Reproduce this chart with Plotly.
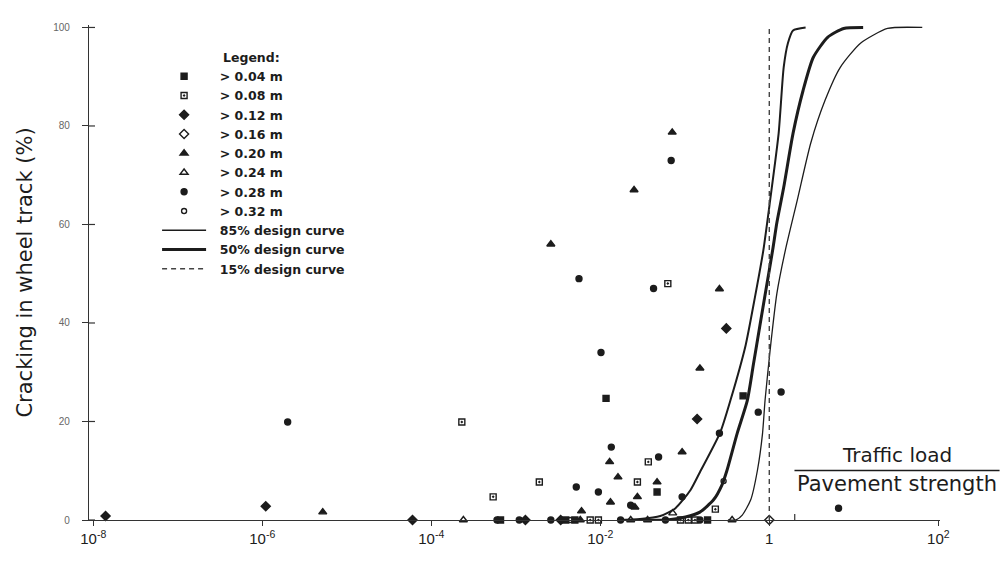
import math
import plotly.graph_objects as go

# ---------------- data (x = traffic load / pavement strength, y = cracking %) ----------------
sq_x = [6.6e-4, 3.9e-3, 5.0e-3, 0.0117, 0.047, 0.186, 0.49]
sq_y = [0, 0, 0, 24.7, 5.7, 0, 25.2]

sqo_x = [2.3e-4, 5.4e-4, 1.9e-3, 7.6e-3, 9.5e-3, 0.0275, 0.037, 0.063, 0.089, 0.11, 0.132, 0.23]
sqo_y = [19.9, 4.7, 7.7, 0, 0, 7.7, 11.8, 48, 0, 0, 0, 2.2]

dia_x = [1.4e-8, 1.1e-6, 6.0e-5, 1.3e-3, 3.4e-3, 0.14, 0.31]
dia_y = [0.8, 2.8, 0, 0, 0, 20.5, 38.9]

diao_x = [1.0]
diao_y = [0]

tri_x = [5.2e-6, 2.6e-3, 6.0e-3, 5.8e-3, 0.0129, 0.0132, 0.0162, 0.0257, 0.0275, 0.0251,
         0.047, 0.071, 0.093, 0.151, 0.257]
tri_y = [1.6, 56, 1.8, 0, 11.8, 3.6, 8.7, 2.6, 4.7, 67, 7.7, 78.7, 13.8, 30.8, 46.9]

trio_x = [2.4e-4, 0.0229, 0.0363, 0.072, 0.363]
trio_y = [0, 0, 0, 1.4, 0]

cir_x = [2.0e-6, 6.0e-4, 1.1e-3, 2.6e-3, 5.6e-3, 5.2e-3, 9.5e-3, 0.0102, 0.0135, 0.0229,
         0.0427, 0.049, 0.069, 0.093, 0.257, 0.74, 1.38, 6.6, 0.0174, 0.059, 0.151]
cir_y = [19.9, 0, 0, 0, 49, 6.7, 5.7, 34, 14.8, 3.0, 47, 12.8, 73, 4.7, 17.6, 21.9, 26,
         2.4, 0, 0, 0]

ciro_x = [4.4e-3, 0.288]
ciro_y = [0, 7.9]

# design curves
curveA_x = [0.0158, 0.0295, 0.0513, 0.0776, 0.117, 0.151, 0.263, 0.347, 0.525, 0.676,
            0.851, 1.023, 1.29, 1.48, 1.66, 1.91, 2.69]
curveA_y = [0, 0.2, 0.8, 2.4, 6.1, 9.7, 17.8, 24.3, 35.5, 45.2, 54.8, 64.9, 78.5, 91.9,
            96.8, 99.4, 100]

curveB_x = [0.0295, 0.0617, 0.102, 0.151, 0.219, 0.275, 0.316, 0.417, 0.550, 0.646, 0.776,
            0.912, 1.096, 1.23, 1.48, 1.91, 2.51, 3.31, 4.90, 7.59, 12.9]
curveB_y = [0, 0, 0.6, 1.6, 4.1, 7.1, 10.1, 17.6, 24.3, 31.4, 39.6, 46.7, 54.8, 60.4, 67.5,
            78.5, 87.2, 93.9, 98.0, 99.8, 100]

curveC_x = [0.324, 0.398, 0.479, 0.603, 0.724, 0.832, 0.891, 1.023, 1.23, 1.55, 2.14, 3.09,
            4.57, 6.92, 12.0, 25.1, 64.6]
curveC_y = [0, 0, 1.0, 4.1, 10.1, 17.6, 24.3, 34.5, 46.0, 54.8, 64.9, 76.5, 85.2, 91.9,
            96.8, 99.8, 100]

dash_x = [1.0, 1.0]
dash_y = [0, 100]

x_tickvals = [1e-8, 1e-6, 1e-4, 1e-2, 1, 1e2]
x_ticktext = ["10<sup>-8</sup>", "10<sup>-6</sup>", "10<sup>-4</sup>", "10<sup>-2</sup>", "1",
              "10<sup>2</sup>"]
y_tickvals = [0, 20, 40, 60, 80, 100]

# ---------------- figure ----------------
INK = "#1c1c1c"
PAD = "\u00a0\u00a0"
fig = go.Figure()

marker_series = [
    ("> 0.04 m", sq_x, sq_y, "square", 6),
    ("> 0.08 m", sqo_x, sqo_y, "square-open-dot", 6),
    ("> 0.12 m", dia_x, dia_y, "diamond", 7),
    ("> 0.16 m", diao_x, diao_y, "diamond-open", 7),
    ("> 0.20 m", tri_x, tri_y, "triangle-up", 7),
    ("> 0.24 m", trio_x, trio_y, "triangle-up-open", 7),
    ("> 0.28 m", cir_x, cir_y, "circle", 6),
    ("> 0.32 m", ciro_x, ciro_y, "circle-open", 5),
]
for name, xs, ys, sym, sz in marker_series:
    fig.add_trace(go.Scatter(
        x=xs, y=ys, mode="markers", name=PAD + name,
        marker=dict(symbol=sym, size=sz, color=INK, line=dict(color=INK, width=1.4)),
        cliponaxis=False,
    ))

fig.add_trace(go.Scatter(x=curveA_x, y=curveA_y, mode="lines", showlegend=False,
                         line=dict(color=INK, width=2, shape="spline", smoothing=0.6)))
fig.add_trace(go.Scatter(x=curveC_x, y=curveC_y, mode="lines", name=PAD + "85% design curve",
                         line=dict(color=INK, width=1.3, shape="spline", smoothing=0.6)))
fig.add_trace(go.Scatter(x=curveB_x, y=curveB_y, mode="lines", name=PAD + "50% design curve",
                         line=dict(color=INK, width=3, shape="spline", smoothing=0.6)))
fig.add_trace(go.Scatter(x=dash_x, y=dash_y, mode="lines", name=PAD + "15% design curve",
                         line=dict(color="#444", width=1.4, dash="5px,4px")))

# crossing tick marks (inner half of the ticks)
shapes = []
for v in y_tickvals:
    shapes.append(dict(type="line", xref="paper", yref="y", xsizemode="pixel", xanchor=0,
                       x0=0, x1=6, y0=v, y1=v, line=dict(color="#333", width=1.2)))
for v in x_tickvals:
    lv = math.log10(v)
    shapes.append(dict(type="line", xref="x", yref="paper", ysizemode="pixel", yanchor=0,
                       y0=0, y1=6, x0=lv, x1=lv, line=dict(color="#333", width=1.2)))
# fraction bar of the x-axis title
shapes.append(dict(type="line", xref="paper", yref="paper", x0=0.829, x1=1.07, y0=0.10,
                   y1=0.10, line=dict(color=INK, width=1.5)))

fig.update_layout(
    width=1002, height=563,
    margin=dict(l=89, r=62, t=25, b=43),
    paper_bgcolor="white", plot_bgcolor="white",
    font=dict(family="DejaVu Sans", color=INK),
    shapes=shapes,
    showlegend=True,
    legend=dict(
        x=0.08, y=0.926, xanchor="left", yanchor="top",
        bgcolor="rgba(0,0,0,0)", itemwidth=44,
        font=dict(family="DejaVu Sans", size=12.5, color=INK, weight="bold"),
        tracegroupgap=0,
    ),
    annotations=[
        dict(text="<b>Legend:</b>", xref="paper", yref="paper", x=0.155, y=0.935,
             xanchor="left", yanchor="middle", showarrow=False,
             font=dict(family="DejaVu Sans", size=12.5, color=INK)),
        dict(text="Traffic load", xref="paper", yref="paper", x=0.95, y=0.131,
             xanchor="center", yanchor="middle", showarrow=False,
             font=dict(family="DejaVu Sans", size=20, color=INK)),
        dict(text="Pavement strength", xref="paper", yref="paper", x=0.95, y=0.072,
             xanchor="center", yanchor="middle", showarrow=False,
             font=dict(family="DejaVu Sans", size=21, color=INK)),
    ],
    xaxis=dict(
        type="log", range=[-8.05, 2.02],
        tickvals=x_tickvals, ticktext=x_ticktext,
        ticks="outside", ticklen=5, tickcolor="#333", tickwidth=1.2,
        showline=True, linecolor="#333", linewidth=1.3,
        showgrid=False, zeroline=False,
        tickfont=dict(family="Liberation Sans", size=15, color=INK),
    ),
    yaxis=dict(
        range=[0, 100.5],
        tickvals=y_tickvals,
        ticks="outside", ticklen=6, tickcolor="#333", tickwidth=1.2,
        ticklabelstandoff=10,
        showline=True, linecolor="#333", linewidth=1.3,
        showgrid=False, zeroline=False,
        tickfont=dict(family="Liberation Sans", size=10, color="#666"),
        title=dict(text="Cracking in wheel track (%)", standoff=14,
                   font=dict(family="DejaVu Sans", size=21, color=INK)),
    ),
)

fig.write_html("out.html")
